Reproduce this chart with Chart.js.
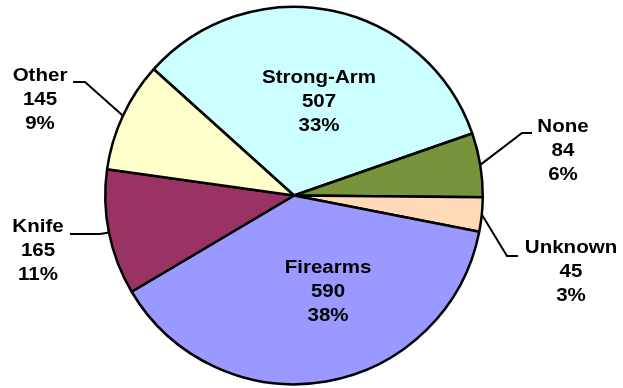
<!DOCTYPE html>
<html lang="en">
<head>
<meta charset="UTF-8">
<title>Robberies by Weapon</title>
<script src="https://cdn.jsdelivr.net/npm/chart.js"></script>
<style>
  html, body { margin: 0; padding: 0; background: #FFFFFF; }
  #wrap { width: 623px; height: 388px; }
</style>
</head>
<body>
<div id="wrap"><canvas id="weaponChart"></canvas></div>
<script>
// data
const categories = ['Strong-Arm', 'None', 'Unknown', 'Firearms', 'Knife', 'Other'];
const counts = [507, 84, 45, 590, 165, 145];
const percentLabels = ['33%', '6%', '3%', '38%', '11%', '9%'];

const sliceColors = ['#CCFFFF', '#77933C', '#FFD9B8', '#9999FF', '#993366', '#FFFFCC'];

// where each label block sits: text centre x, first line y, optional leader (elbow, end)
const labelLayout = [
    { x: 319, y: 78 },
    { x: 563, y: 127, elbow: [522, 133], end: [532, 133] },
    { x: 571, y: 248, elbow: [507, 256], end: [518, 256] },
    { x: 328, y: 268 },
    { x: 38, y: 227, elbow: [100, 234], end: [70, 234] },
    { x: 40, y: 76, elbow: [85, 82], end: [73, 82] }
];

const sliceLabels = {
    id: 'sliceLabels',
    afterDatasetsDraw(chart) {
        const ctx = chart.ctx;
        const arcs = chart.getDatasetMeta(0).data;
        ctx.save();
        arcs.forEach((arc, i) => {
            const lay = labelLayout[i];
            if (lay.elbow) {
                const mid = (arc.startAngle + arc.endAngle) / 2;
                const ax = arc.x + Math.cos(mid) * arc.outerRadius;
                const ay = arc.y + Math.sin(mid) * arc.outerRadius;
                ctx.beginPath();
                ctx.strokeStyle = '#000000';
                ctx.lineWidth = 2;
                ctx.moveTo(ax, ay);
                ctx.lineTo(lay.elbow[0], lay.elbow[1]);
                ctx.lineTo(lay.end[0], lay.end[1]);
                ctx.stroke();
            }
            const lines = [categories[i], String(counts[i]), percentLabels[i]];
            ctx.fillStyle = '#000000';
            ctx.font = 'bold 19px "Liberation Sans", Arial, sans-serif';
            ctx.textAlign = 'center';
            ctx.textBaseline = 'middle';
            lines.forEach((t, k) => {
                ctx.save();
                ctx.translate(lay.x, lay.y + k * 24);
                ctx.scale(1.08, 1);
                ctx.fillText(t, 0, 0);
                ctx.restore();
            });
        });
        ctx.restore();
    }
};

new Chart(document.getElementById('weaponChart'), {
    type: 'pie',
    data: {
        labels: categories,
        datasets: [{
            data: counts,
            backgroundColor: sliceColors,
            borderColor: '#000000',
            borderWidth: 2.5
        }]
    },
    options: {
        responsive: true,
        maintainAspectRatio: false,
        animation: false,
        rotation: -48,
        layout: { padding: { left: 104, right: 139, top: 5, bottom: 2 } },
        plugins: {
            legend: { display: false },
            tooltip: { enabled: false }
        }
    },
    plugins: [sliceLabels]
});
</script>
</body>
</html>
